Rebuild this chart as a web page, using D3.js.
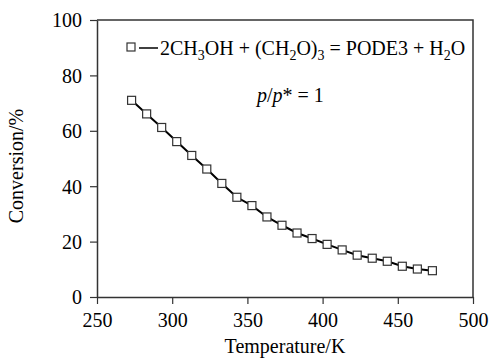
<!DOCTYPE html>
<html>
<head>
<meta charset="utf-8">
<script src="https://cdn.jsdelivr.net/npm/d3@7"></script>
<style>
  body { margin: 0; background: #fff; }
  svg text { font-family: "Liberation Serif", "Times New Roman", serif; fill: #000; }
</style>
</head>
<body>
<div id="chart"></div>
<script>
// data
var temps = [273, 283, 293, 303, 313, 323, 333, 343, 353, 363, 373, 383, 393, 403, 413, 423, 433, 443, 453, 463, 473];
var conversion = [71.0, 66.1, 61.2, 56.1, 51.1, 46.2, 41.0, 36.0, 33.0, 28.9, 25.9, 23.1, 21.1, 19.0, 17.0, 15.1, 14.0, 12.9, 11.1, 10.1, 9.5];
var xTicks = [250, 300, 350, 400, 450, 500];
var yTicks = [0, 20, 40, 60, 80, 100];

var svgWidth = 491;
var svgHeight = 360;
var margin = { top: 20, right: 18, bottom: 63, left: 97 };
var width = svgWidth - margin.left - margin.right;
var height = svgHeight - margin.top - margin.bottom;
var fs = "20px";

var svg = d3.select("#chart").append("svg")
  .attr("width", svgWidth)
  .attr("height", svgHeight);

var chartGroup = svg.append("g")
  .attr("transform", `translate(${margin.left}, ${margin.top})`);

var xScale = d3.scaleLinear().domain([250, 500]).range([0, width]);
var yScale = d3.scaleLinear().domain([0, 100]).range([height, 0]);

var axisColor = "#333";

// frame (top + right)
chartGroup.append("path")
  .attr("d", `M0,0H${width}V${height}`)
  .attr("fill", "none")
  .attr("stroke", axisColor)
  .attr("stroke-width", 1.5);

// axes
var bottomAxis = d3.axisBottom(xScale).tickValues(xTicks).tickSize(7).tickSizeOuter(0).tickPadding(9);
var leftAxis = d3.axisLeft(yScale).tickValues(yTicks).tickSize(7).tickSizeOuter(0).tickPadding(8);

var gx = chartGroup.append("g")
  .attr("transform", `translate(0, ${height})`)
  .call(bottomAxis);
var gy = chartGroup.append("g").call(leftAxis);

[gx, gy].forEach(g => {
  g.attr("font-family", null).attr("font-size", null);
  g.select(".domain").attr("stroke", axisColor).attr("stroke-width", 1.5);
  g.selectAll(".tick line").attr("stroke", axisColor).attr("stroke-width", 1.2);
  g.selectAll(".tick text")
    .style("font-family", "'Liberation Serif', 'Times New Roman', serif")
    .style("font-size", fs)
    .attr("fill", "#000");
});
gy.selectAll(".tick text").attr("dy", "0.34em");

// line
var line = d3.line()
  .x((d, i) => xScale(temps[i]))
  .y(d => yScale(d));

chartGroup.append("path")
  .datum(conversion)
  .attr("d", line)
  .attr("fill", "none")
  .attr("stroke", "#000")
  .attr("stroke-width", 2);

// markers
var ms = 8;
chartGroup.selectAll("rect.pt").data(conversion).enter().append("rect")
  .attr("class", "pt")
  .attr("x", (d, i) => xScale(temps[i]) - ms / 2)
  .attr("y", d => yScale(d) - ms / 2)
  .attr("width", ms)
  .attr("height", ms)
  .attr("fill", "#fff")
  .attr("stroke", "#333")
  .attr("stroke-width", 1.2);

// legend
var lg = svg.append("g").attr("transform", "translate(127, 47)");
lg.append("rect")
  .attr("x", 0).attr("y", -4).attr("width", 8).attr("height", 8)
  .attr("fill", "#fff").attr("stroke", "#333").attr("stroke-width", 1.2);
lg.append("line")
  .attr("x1", 12).attr("x2", 31).attr("y1", 1).attr("y2", 1)
  .attr("stroke", "#000").attr("stroke-width", 1.5);

var legText = lg.append("text")
  .attr("x", 33).attr("y", 8)
  .style("font-size", fs);
var parts = [
  ["2CH", 0], ["3", 1], ["OH + (CH", 0], ["2", 1], ["O)", 0], ["3", 1],
  [" = PODE3 + H", 0], ["2", 1], ["O", 0]
];
var prevSub = 0;
parts.forEach(p => {
  var dy = p[1] === prevSub ? 0 : (p[1] ? 5 : -5);
  legText.append("tspan")
    .attr("dy", dy)
    .style("font-size", p[1] ? "14px" : fs)
    .text(p[0]);
  prevSub = p[1];
});

// p/p* = 1
var pt = svg.append("text")
  .attr("x", 257).attr("y", 102)
  .style("font-size", fs);
pt.append("tspan").attr("font-style", "italic").text("p");
pt.append("tspan").text("/");
pt.append("tspan").attr("font-style", "italic").text("p");
pt.append("tspan").text("* = 1");

// axis titles
svg.append("text")
  .attr("x", margin.left + width / 2)
  .attr("y", 353)
  .attr("text-anchor", "middle")
  .style("font-size", fs)
  .text("Temperature/K");

svg.append("text")
  .attr("transform", "rotate(-90)")
  .attr("x", -166)
  .attr("y", 23)
  .attr("text-anchor", "middle")
  .style("font-size", fs)
  .text("Conversion/%");
</script>
</body>
</html>
